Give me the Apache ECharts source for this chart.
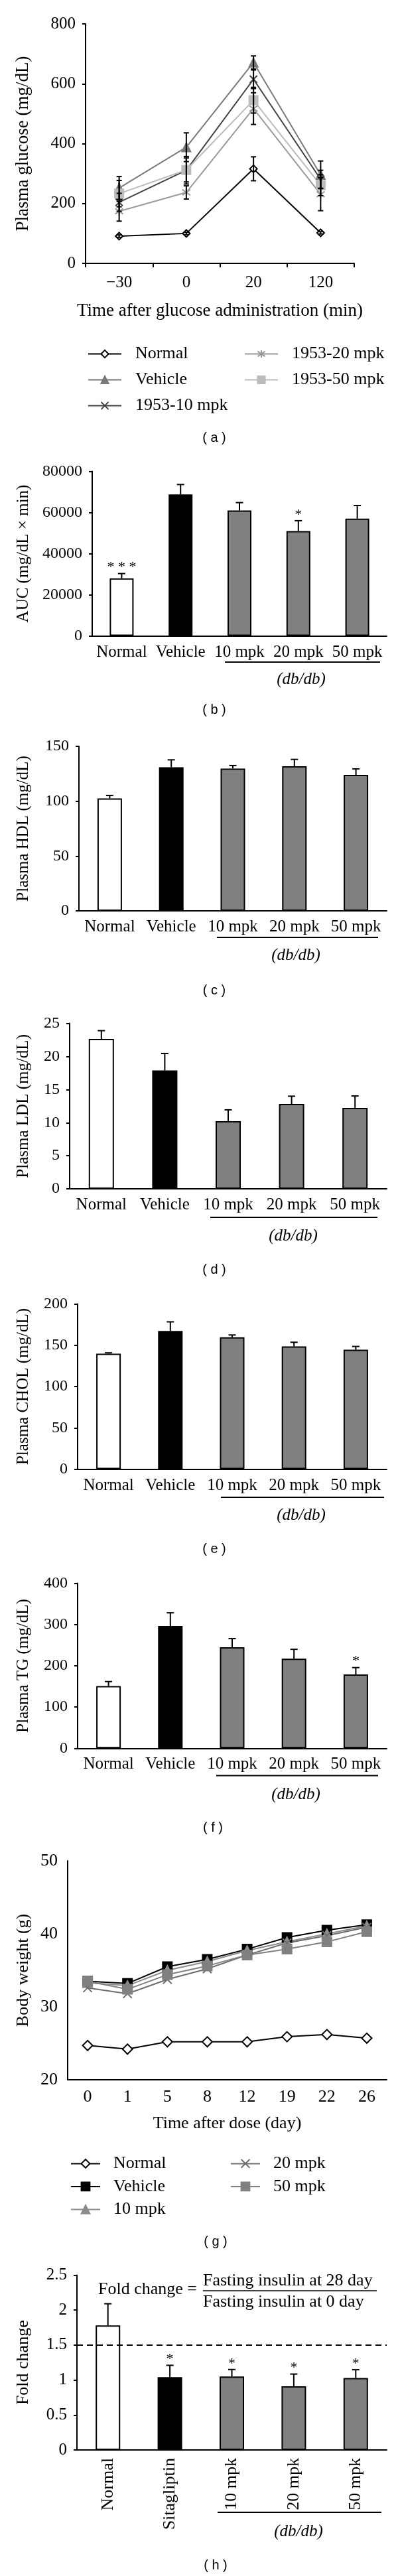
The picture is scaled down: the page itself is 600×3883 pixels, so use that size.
<!DOCTYPE html>
<html>
<head>
<meta charset="utf-8">
<script src="https://cdn.jsdelivr.net/npm/echarts@6/dist/echarts.min.js"></script>
<style>
html,body{margin:0;padding:0;background:#fff;}
#main{width:600px;height:3883px;}
</style>
</head>
<body>
<div id="main"></div>
<script>
// ---------------- DATA ----------------
// (a) glucose tolerance
const glucoseTimes = ['\u221230', '0', '20', '120'];
const glucoseNormal = [91, 100, 316, 102];
const glucoseNormalErr = [4, 4, 40, 4];
const glucoseVehicle = [252, 388, 671, 296];
const glucoseVehicleErr = [38, 48, 22, 46];
const glucose10 = [204, 311, 615, 281];
const glucose10Err = [30, 46, 31, 30];
const glucose20 = [174, 237, 517, 231];
const glucose20Err = [33, 22, 53, 55];
const glucose50 = [233, 312, 545, 261];
const glucose50Err = [44, 40, 43, 35];

// (b)-(f) bar panels
const groups = ['Normal', 'Vehicle', '10 mpk', '20 mpk', '50 mpk'];
const aucValues = [28000, 68800, 61000, 51000, 57000];
const aucErr = [2300, 4800, 3800, 5000, 6400];
const aucStars = ['* * *', '', '', '*', ''];
const hdlValues = [102.5, 131, 129.8, 131.9, 124];
const hdlErr = [2.7, 6.7, 2.7, 6.2, 5.4];
const ldlValues = [22.65, 17.9, 10.24, 12.83, 12.24];
const ldlErr = [1.25, 2.55, 1.7, 1.17, 1.8];
const cholValues = [139.8, 167.3, 159.6, 148.6, 144.5];
const cholErr = [1, 11, 2.8, 5, 4];
const tgValues = [150.7, 296.4, 244.9, 217.2, 179];
const tgErr = [11, 32, 21, 22.7, 16.6];
const tgStars = ['', '', '', '', '*'];

// (g) body weight
const days = ['0', '1', '5', '8', '12', '19', '22', '26'];
const bwNormal = [24.7, 24.2, 25.2, 25.2, 25.2, 25.9, 26.2, 25.7];
const bwVehicle = [33.5, 33.2, 35.5, 36.5, 37.9, 39.5, 40.5, 41.25];
const bw10 = [33.3, 32.9, 35.0, 36.2, 37.7, 38.9, 40.0, 41.1];
const bw20 = [32.6, 31.8, 33.75, 35.2, 37.1, 38.75, 39.75, 40.9];
const bw50 = [33.5, 32.4, 34.4, 35.6, 37.1, 37.9, 38.9, 40.3];

// (h) fold change
const foldGroups = ['Normal', 'Sitagliptin', '10 mpk', '20 mpk', '50 mpk'];
const foldValues = [1.78, 1.04, 1.05, 0.91, 1.03];
const foldErr = [0.31, 0.17, 0.1, 0.175, 0.117];
const foldStars = ['', '*', '*', '*', '*'];
const foldThreshold = 1.5;

// ---------------- STYLE ----------------
const SERIF = "'Liberation Serif', 'DejaVu Serif', serif";
const SANS = "'Liberation Sans', 'DejaVu Sans', sans-serif";
const BAR_FILLS = ['#ffffff', '#000000', '#808080', '#808080', '#808080'];
const X_SYMBOL = 'path://M0,0L10,10M10,0L0,10';
const STAR_SYMBOL = 'path://M0,1.5L10,8.5M0,8.5L10,1.5M5,0L5,10';

const GRIDS = [
  {left: 129, top: 36, width: 405, height: 361},
  {left: 139, top: 710.5, width: 444, height: 248},
  {left: 119, top: 1125, width: 464, height: 248},
  {left: 105, top: 1542.6, width: 478, height: 249.5},
  {left: 117, top: 1965.5, width: 466, height: 249},
  {left: 117, top: 2386.6, width: 466, height: 248.7},
  {left: 102, top: 2805, width: 481, height: 330},
  {left: 116, top: 3429.4, width: 467, height: 263.6}
];

function makeY(i, min, max, interval, name, fs, labelFs, tickShow) {
  const g = GRIDS[i];
  return {
    type: 'value', gridIndex: i, min: min, max: max, interval: interval,
    name: name, nameLocation: 'middle', nameGap: g.left - 35 - fs / 2, nameRotate: 90,
    nameTextStyle: {fontFamily: SERIF, fontSize: fs, color: '#000'},
    axisLine: {show: true, onZero: false, lineStyle: {color: '#000', width: 2}},
    axisTick: {show: tickShow, length: 5, lineStyle: {color: '#000', width: 2}},
    axisLabel: {fontFamily: SERIF, fontSize: labelFs, color: '#000', margin: 15, formatter: v => String(v)},
    splitLine: {show: false}
  };
}

function makeX(i, data, extra) {
  return Object.assign({
    type: 'category', gridIndex: i, data: data,
    axisLine: {show: true, onZero: false, lineStyle: {color: '#000', width: 2}},
    axisTick: {show: false},
    axisLabel: {fontFamily: SERIF, fontSize: 25, color: '#000', margin: 12, interval: 0},
    splitLine: {show: false}
  }, extra || {});
}

function barSeries(i, values, barWidth, extra) {
  return Object.assign({
    type: 'bar', xAxisIndex: i, yAxisIndex: i, barWidth: barWidth, silent: true,
    data: values.map((v, k) => ({value: v, itemStyle: {color: BAR_FILLS[k]}})),
    itemStyle: {borderColor: '#000', borderWidth: 2}, z: 2
  }, extra || {});
}

function errSeries(i, values, errs, opts) {
  const o = Object.assign({both: false, cap: 11, stars: null, width: 2, z: 4, starSize: 22}, opts || {});
  return {
    type: 'custom', xAxisIndex: i, yAxisIndex: i, z: o.z, silent: true,
    data: values.map((v, k) => [k, v, errs[k]]),
    renderItem: function (params, api) {
      const k = api.value(0), v = api.value(1), e = api.value(2);
      const pTop = api.coord([k, v + e]);
      const pBase = api.coord([k, o.both ? v - e : v]);
      const x = pTop[0];
      const ls = {stroke: '#000', lineWidth: o.width};
      const children = [
        {type: 'line', shape: {x1: x, y1: pBase[1], x2: x, y2: pTop[1]}, style: ls},
        {type: 'line', shape: {x1: x - o.cap / 2, y1: pTop[1], x2: x + o.cap / 2, y2: pTop[1]}, style: ls}
      ];
      if (o.both) {
        children.push({type: 'line', shape: {x1: x - o.cap / 2, y1: pBase[1], x2: x + o.cap / 2, y2: pBase[1]}, style: ls});
      }
      const s = o.stars ? o.stars[params.dataIndex] : '';
      if (s) {
        children.push({type: 'text', style: {text: s, x: x, y: pTop[1] - 9, align: 'center', verticalAlign: 'middle',
          fontSize: o.starSize, fontFamily: SERIF, fill: '#000'}});
      }
      return {type: 'group', children: children};
    }
  };
}

function lineSeries(i, name, data, symbol, size, color, fill, extra) {
  return Object.assign({
    type: 'line', name: name, xAxisIndex: i, yAxisIndex: i, data: data,
    symbol: symbol, symbolSize: size, showAllSymbol: true,
    lineStyle: {color: color, width: 2},
    itemStyle: {color: fill, borderColor: color, borderWidth: 2},
    z: 2, silent: true
  }, extra || {});
}

// ---------------- OPTION ----------------
const grid = GRIDS.map(g => Object.assign({outerBoundsMode: 'none', containLabel: false}, g));

const xAxis = [
  makeX(0, glucoseTimes, {
    name: 'Time after glucose administration (min)', nameLocation: 'middle', nameGap: 58,
    nameTextStyle: {fontFamily: SERIF, fontSize: 27, color: '#000'},
    axisTick: {show: true, length: 6, lineStyle: {color: '#000', width: 2}},
    axisLabel: {fontFamily: SERIF, fontSize: 25, color: '#000', margin: 17, interval: 0}
  }),
  makeX(1, groups),
  makeX(2, groups),
  makeX(3, groups),
  makeX(4, groups),
  makeX(5, groups),
  makeX(6, days, {
    name: 'Time after dose (day)', nameLocation: 'middle', nameGap: 53,
    nameTextStyle: {fontFamily: SERIF, fontSize: 26, color: '#000'},
    axisLabel: {fontFamily: SERIF, fontSize: 26, color: '#000', margin: 13, interval: 0}
  }),
  makeX(7, foldGroups, {
    axisLabel: {fontFamily: SERIF, fontSize: 26, color: '#000', margin: 12, interval: 0, rotate: 90}
  })
];

const yAxis = [
  makeY(0, 0, 800, 200, 'Plasma glucose (mg/dL)', 27, 25, true),
  makeY(1, 0, 80000, 20000, 'AUC (mg/dL \u00d7 min)', 25, 24, true),
  makeY(2, 0, 150, 50, 'Plasma HDL (mg/dL)', 25, 24, true),
  makeY(3, 0, 25, 5, 'Plasma LDL (mg/dL)', 25, 24, true),
  makeY(4, 0, 200, 50, 'Plasma CHOL (mg/dL)', 25, 24, true),
  makeY(5, 0, 400, 100, 'Plasma TG (mg/dL)', 25, 24, true),
  makeY(6, 20, 50, 10, 'Body weight (g)', 26, 26, false),
  makeY(7, 0, 2.5, 0.5, 'Fold change', 26, 25, true)
];

const series = [
  // (a)
  lineSeries(0, 'a:Normal', glucoseNormal, 'diamond', 11, '#000000', '#ffffff'),
  lineSeries(0, 'a:Vehicle', glucoseVehicle, 'triangle', 13, '#7a7a7a', '#7a7a7a'),
  lineSeries(0, 'a:1953-10 mpk', glucose10, X_SYMBOL, 11, '#404040', '#404040'),
  lineSeries(0, 'a:1953-20 mpk', glucose20, STAR_SYMBOL, 12, '#9a9a9a', '#9a9a9a'),
  lineSeries(0, 'a:1953-50 mpk', glucose50, 'rect', 13, '#bcbcbc', '#bcbcbc'),
  errSeries(0, glucoseNormal, glucoseNormalErr, {both: true, cap: 8}),
  errSeries(0, glucoseVehicle, glucoseVehicleErr, {both: true, cap: 8}),
  errSeries(0, glucose10, glucose10Err, {both: true, cap: 8}),
  errSeries(0, glucose20, glucose20Err, {both: true, cap: 8}),
  errSeries(0, glucose50, glucose50Err, {both: true, cap: 8}),
  // (b)
  barSeries(1, aucValues, 36),
  errSeries(1, aucValues, aucErr, {stars: aucStars}),
  // (c)
  barSeries(2, hdlValues, 37),
  errSeries(2, hdlValues, hdlErr),
  // (d)
  barSeries(3, ldlValues, 38),
  errSeries(3, ldlValues, ldlErr),
  // (e)
  barSeries(4, cholValues, 37),
  errSeries(4, cholValues, cholErr),
  // (f)
  barSeries(5, tgValues, 37),
  errSeries(5, tgValues, tgErr, {stars: tgStars}),
  // (g)
  lineSeries(6, 'g:Normal', bwNormal, 'diamond', 15, '#000000', '#ffffff'),
  lineSeries(6, 'g:Vehicle', bwVehicle, 'rect', 14, '#000000', '#000000'),
  lineSeries(6, 'g:10 mpk', bw10, 'triangle', 14, '#8c8c8c', '#8c8c8c'),
  lineSeries(6, 'g:20 mpk', bw20, X_SYMBOL, 13, '#6e6e6e', '#6e6e6e'),
  lineSeries(6, 'g:50 mpk', bw50, 'rect', 14, '#808080', '#808080'),
  // (h)
  barSeries(7, foldValues, 37, {
    markLine: {
      silent: true, symbol: ['none', 'none'], label: {show: false},
      lineStyle: {color: '#000', width: 2, type: [9, 6]},
      data: [{yAxis: foldThreshold}]
    }
  }),
  errSeries(7, foldValues, foldErr, {stars: foldStars})
];

const legendText = {fontFamily: SERIF, fontSize: 26, color: '#000', lineHeight: 26, padding: [0, 0, 0, 16]};
const legend = [
  {left: 127, top: 515.5, orient: 'vertical', selectedMode: false, itemWidth: 50, itemHeight: 14, itemGap: 13,
    data: ['a:Normal', 'a:Vehicle', 'a:1953-10 mpk'], formatter: n => n.slice(2), textStyle: legendText},
  {left: 363, top: 515.5, orient: 'vertical', selectedMode: false, itemWidth: 50, itemHeight: 14, itemGap: 13,
    data: ['a:1953-20 mpk', 'a:1953-50 mpk'], formatter: n => n.slice(2), textStyle: legendText},
  {left: 101, top: 3243.4, orient: 'vertical', selectedMode: false, itemWidth: 44, itemHeight: 16, itemGap: 8.5,
    data: ['g:Normal', 'g:Vehicle', 'g:10 mpk'], formatter: n => n.slice(2),
    textStyle: Object.assign({}, legendText, {padding: [0, 0, 0, 15]})},
  {left: 342, top: 3243.4, orient: 'vertical', selectedMode: false, itemWidth: 44, itemHeight: 16, itemGap: 8.5,
    data: ['g:20 mpk', 'g:50 mpk'], formatter: n => n.slice(2),
    textStyle: Object.assign({}, legendText, {padding: [0, 0, 0, 15]})}
];

// ---------------- GRAPHIC (annotations) ----------------
const graphic = [];
function panelLabel(txt, x, y) {
  graphic.push({type: 'text', x: x, y: y, silent: true,
    style: {text: txt, align: 'center', verticalAlign: 'middle', fontSize: 20, fontFamily: SANS, fill: '#000'}});
}
function dbLabel(x1, x2, yLine, xText, yText) {
  graphic.push({type: 'line', silent: true, shape: {x1: x1, y1: yLine, x2: x2, y2: yLine}, style: {stroke: '#000', lineWidth: 2}});
  graphic.push({type: 'text', x: xText, y: yText, silent: true,
    style: {text: '(db/db)', align: 'center', verticalAlign: 'middle', fontSize: 25, fontStyle: 'italic', fontFamily: SERIF, fill: '#000'}});
}
panelLabel('( a )', 323, 660);
panelLabel('( b )', 323, 1070);
panelLabel('( c )', 323, 1493);
panelLabel('( d )', 323, 1914.5);
panelLabel('( e )', 323, 2335.6);
panelLabel('( f )', 321, 2755);
panelLabel('( g )', 325, 3379.4);
panelLabel('( h )', 325, 3867.4);
dbLabel(339, 573, 998, 454, 1024);
dbLabel(327, 570, 1413, 446, 1440);
dbLabel(317, 569, 1835, 442, 1863);
dbLabel(333, 579, 2257, 454, 2284);
dbLabel(326, 570, 2676.6, 446, 2705);
dbLabel(328, 575, 3787, 450, 3816);
// formula in (h)
graphic.push({type: 'text', x: 148, y: 3451, silent: true,
  style: {text: 'Fold change =', align: 'left', verticalAlign: 'middle', fontSize: 26, fontFamily: SERIF, fill: '#000'}});
graphic.push({type: 'text', x: 306, y: 3438, silent: true,
  style: {text: 'Fasting insulin at 28 day', align: 'left', verticalAlign: 'middle', fontSize: 26, fontFamily: SERIF, fill: '#000'}});
graphic.push({type: 'line', silent: true, shape: {x1: 306, y1: 3453, x2: 568, y2: 3453}, style: {stroke: '#000', lineWidth: 1.5}});
graphic.push({type: 'text', x: 306, y: 3470, silent: true,
  style: {text: 'Fasting insulin at 0 day', align: 'left', verticalAlign: 'middle', fontSize: 26, fontFamily: SERIF, fill: '#000'}});

const option = {
  animation: false,
  backgroundColor: '#ffffff',
  textStyle: {fontFamily: SERIF},
  grid: grid,
  xAxis: xAxis,
  yAxis: yAxis,
  legend: legend,
  series: series,
  graphic: graphic
};

const chart = echarts.init(document.getElementById('main'), null, {renderer: 'canvas'});
chart.setOption(option);
</script>
</body>
</html>
